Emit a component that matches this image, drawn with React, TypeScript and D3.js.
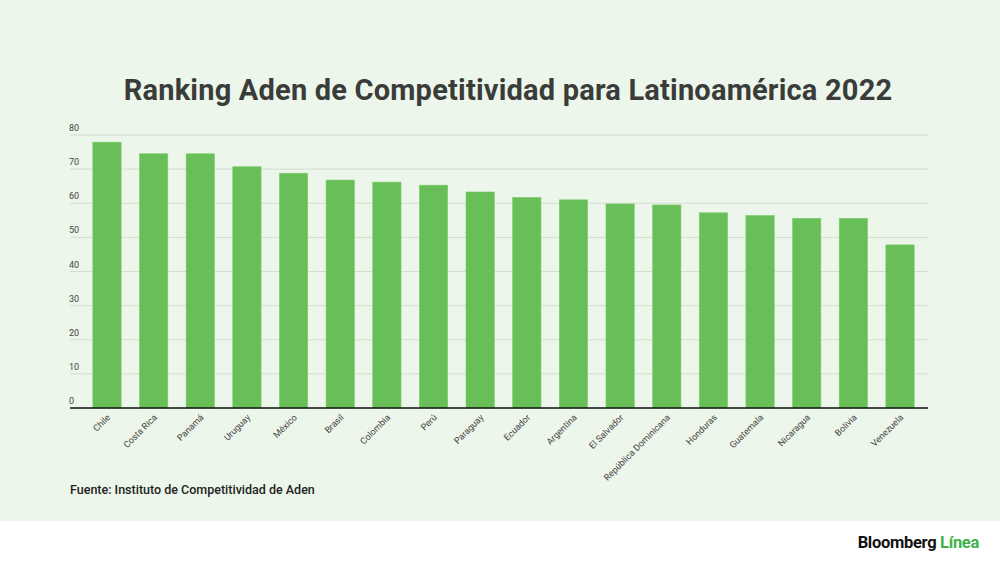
import React from "react";
import * as d3 from "d3";

const countries = [
  "Chile", "Costa Rica", "Panamá", "Uruguay", "México", "Brasil", "Colombia", "Perú", "Paraguay",
  "Ecuador", "Argentina", "El Salvador", "República Dominicana", "Honduras", "Guatemala",
  "Nicaragua", "Bolivia", "Venezuela",
];
const scores = [77.9, 74.5, 74.5, 70.7, 68.8, 66.8, 66.2, 65.3, 63.3, 61.7, 61.0, 59.8, 59.5, 57.2, 56.4, 55.6, 55.6, 47.8];
const yTicks = [0, 10, 20, 30, 40, 50, 60, 70, 80];

const W = 1000;
const H = 562;
const plot = { left: 70, right: 928, top: 135, bottom: 408 };
const font = "Roboto, 'Noto Sans', sans-serif";

export default function App() {
  const x = d3
    .scaleBand<string>()
    .domain(countries)
    .range([83.5, 923.5])
    .paddingInner(0.393)
    .paddingOuter(0.2);

  const y = d3.scaleLinear().domain([0, 80]).range([plot.bottom, plot.top]);

  return (
    <svg width={W} height={H} style={{ position: "absolute", left: 0, top: 0 }}>
      <rect width={W} height={H} fill="#ffffff" />
      <rect width={W} height={521} fill="#edf6ea" />

      <text x={508} y={100} textAnchor="middle" fontFamily={font} fontWeight={700} fontSize={29} letterSpacing={0.2} fill="#3a3c3a">
        Ranking Aden de Competitividad para Latinoamérica 2022
      </text>

      {/* grid + y labels */}
      {yTicks.map((t) => (
        <g key={t}>
          {t > 0 && (
            <line x1={plot.left} x2={plot.right} y1={y(t)} y2={y(t)} stroke="#d3ddd0" strokeWidth={1} />
          )}
          <text x={69} y={y(t) - 4} fontFamily={font} fontSize={9} fill="#444">
            {t}
          </text>
        </g>
      ))}

      {/* bars */}
      {countries.map((c, i) => (
        <rect
          key={c}
          x={x(c)!}
          y={y(scores[i])}
          width={x.bandwidth()}
          height={y(0) - y(scores[i])}
          fill="#68bf57"
          stroke="#7fcc6f"
          strokeWidth={0.6}
        />
      ))}

      <line x1={plot.left} x2={plot.right} y1={y(0)} y2={y(0)} stroke="#111" strokeWidth={1.5} />

      {/* x labels */}
      {countries.map((c) => {
        const cx = x(c)! + x.bandwidth() / 2 + 4;
        return (
          <text
            key={c}
            transform={`translate(${cx},${y(0) + 10}) rotate(-45)`}
            textAnchor="end"
            fontFamily={font}
            fontSize={9}
            fill="#444"
          >
            {c}
          </text>
        );
      })}

      <text x={70} y={494} fontFamily={font} fontWeight={500} fontSize={12.5} fill="#222">
        Fuente: Instituto de Competitividad de Aden
      </text>

      <text x={979} y={548} textAnchor="end" fontFamily={font} fontWeight={700} fontSize={16.5} letterSpacing={-0.3}>
        <tspan fill="#111">Bloomberg </tspan>
        <tspan fill="#3cb44a">Línea</tspan>
      </text>
    </svg>
  );
}
